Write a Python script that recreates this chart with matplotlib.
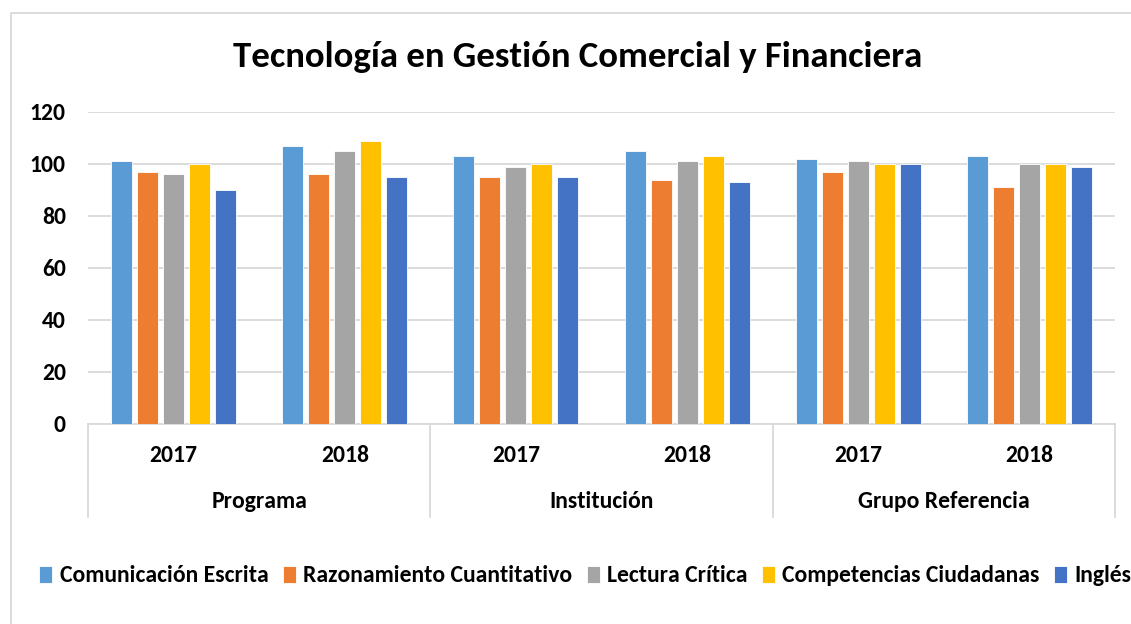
import numpy as np
import matplotlib.pyplot as plt
from matplotlib import font_manager

# Data
groups = ["Programa", "Institución", "Grupo Referencia"]
years = ["2017", "2018"]
series = ["Comunicación Escrita", "Razonamiento Cuantitativo", "Lectura Crítica",
          "Competencias Ciudadanas", "Inglés"]
comunicacion = [101, 107, 103, 105, 102, 103]
razonamiento = [97, 96, 95, 94, 97, 91]
lectura = [96, 105, 99, 101, 101, 100]
ciudadanas = [100, 109, 100, 103, 100, 100]
ingles = [90, 95, 95, 93, 100, 99]

colors = ["#5B9BD5", "#ED7D31", "#A5A5A5", "#FFC000", "#4472C4"]
values = [comunicacion, razonamiento, lectura, ciudadanas, ingles]

# pick a narrow font close to Calibri if available
names = {f.name for f in font_manager.fontManager.ttflist}
for cand in ["Carlito", "Liberation Sans Narrow", "Lato", "Open Sans"]:
    if cand in names:
        font = cand
        break
else:
    font = "DejaVu Sans"
plt.rcParams["font.family"] = [font, "DejaVu Sans"]
plt.rcParams["font.weight"] = "bold"

W, H = 1131, 624
fig = plt.figure(figsize=(W / 100, H / 100), dpi=100)

def fx(px):
    return px / W

def fy(py):
    return 1 - py / H

ax = fig.add_axes([fx(88), fy(424), fx(1115) - fx(88), fy(112) - fy(424)])

n_slots = len(groups) * len(years)
slots = np.arange(n_slots) + 0.5
bar_w = 0.123
step = 0.152
for i, (vals, col, name) in enumerate(zip(values, colors, series)):
    offs = (i - 2) * step
    ax.bar(slots + offs, vals, width=bar_w, color=col, label=name,
           edgecolor="white", linewidth=0.6, zorder=3)

ax.set_xlim(0, n_slots)
ax.set_ylim(0, 120)
ax.set_yticks(np.arange(0, 121, 20))
ax.tick_params(axis="y", length=0, labelsize=17, pad=16)
ax.tick_params(axis="x", length=0, labelbottom=False)
ax.yaxis.grid(True, color="#D9D9D9", linewidth=1.3, zorder=0)
for s in ["top", "right", "left"]:
    ax.spines[s].set_visible(False)
ax.spines["bottom"].set_color("#D9D9D9")
ax.spines["bottom"].set_linewidth(1.3)
for lbl in ax.get_yticklabels():
    lbl.set_fontweight("bold")

# multi-level category labels
for k, x in enumerate(slots):
    fig.text(fx(88) + (fx(1115) - fx(88)) * x / n_slots, fy(456), years[k % 2],
             ha="center", va="center", fontsize=17, fontweight="bold")
for g, name in enumerate(groups):
    xc = (2 * g + 1) / n_slots
    fig.text(fx(88) + (fx(1115) - fx(88)) * xc, fy(502), name,
             ha="center", va="center", fontsize=17, fontweight="bold")
for g in range(len(groups) + 1):
    xp = fx(88) + (fx(1115) - fx(88)) * (2 * g) / n_slots
    fig.add_artist(plt.Line2D([xp, xp], [fy(424), fy(517)], color="#D9D9D9",
                              linewidth=1.3, transform=fig.transFigure))

fig.text(fx(578), fy(57), "Tecnología en Gestión Comercial y Financiera",
         ha="center", va="center", fontsize=26.5, fontweight="bold")

# outer chart border (cropped on right and bottom)
fig.add_artist(plt.Line2D([fx(11), fx(11), 1.0], [0.0, fy(13), fy(13)],
                          color="#D9D9D9", linewidth=1.3, transform=fig.transFigure))

# legend, one row (runs off the right edge like the original)
leg = fig.legend(loc="center left", bbox_to_anchor=(fx(30), fy(576)), ncol=5,
                 frameon=False, fontsize=17, handlelength=0.55, handleheight=0.75,
                 handletextpad=0.3, columnspacing=0.62, borderaxespad=0)
for t in leg.get_texts():
    t.set_fontweight("bold")

fig.savefig("out.png", dpi=100)
